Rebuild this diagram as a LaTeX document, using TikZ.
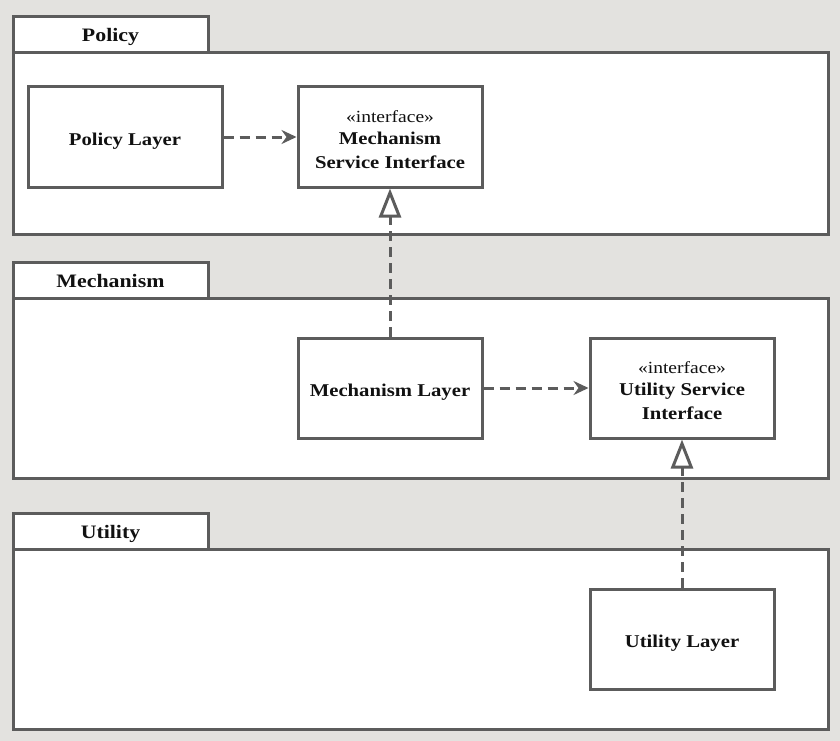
\documentclass[tikz,border=0pt]{standalone}
\usepackage{fontspec}
\setmainfont{Liberation Serif}[FakeStretch=1.15]
\usetikzlibrary{arrows.meta}
\definecolor{bg}{HTML}{E3E2DF}
\definecolor{ln}{HTML}{5C5C5C}
\definecolor{tx}{HTML}{111111}
\newcommand\stereotxt[1]{{\fontsize{17}{20}\selectfont\mdseries #1}}
\begin{document}
\begin{tikzpicture}[x=1pt,y=-1pt,
  pkg/.style={draw=ln,line width=3pt,fill=white},
  comp/.style={draw=ln,line width=3pt,fill=white,minimum width=184pt,minimum height=100pt,inner sep=0pt},
  lbl/.style={inner sep=0pt,align=center,text=tx,font=\fontsize{18}{24}\selectfont\bfseries},
  pkglabel/.style={anchor=base,inner sep=0pt,text=tx,font=\fontsize{19}{22}\selectfont\bfseries},
  dep/.style={draw=ln,line width=3pt,dash pattern=on 10pt off 6pt,-{Stealth[length=15pt,width=14pt,inset=5pt]}},
  real/.style={draw=ln,line width=3pt,dash pattern=on 10pt off 6pt,-{Triangle[open,length=29pt,width=22pt,fill=white]}}
]
\fill[bg] (0,0) rectangle (840,741);
\useasboundingbox (0,0) rectangle (840,741);
% Policy package
\draw[pkg] (13,17) rectangle (208,53);
\draw[pkg] (13,53) rectangle (828,234);
\node[pkglabel] (tp) at (110.5,41.7) {Policy};
% Mechanism package
\draw[pkg] (13,262) rectangle (208,298);
\draw[pkg] (13,298) rectangle (828,478);
\node[pkglabel] (tm) at (110.5,287) {Mechanism};
% Utility package
\draw[pkg] (13,513) rectangle (208,549);
\draw[pkg] (13,549) rectangle (828,729);
\node[pkglabel] (tu) at (110.5,538.3) {Utility};
% components
\node[comp,minimum width=194pt] (pl) at (125,137) {};
\node[comp] (msi) at (390,137) {};
\node[comp] (ml) at (390,388) {};
\node[comp] (usi) at (682,388) {};
\node[comp] (ul) at (682,639) {};
% texts
\node[lbl,anchor=base] (plt) at (125,145) {Policy Layer};
\node[lbl] (msit) at ([yshift=-2.5pt]msi.center) {\stereotxt{«interface»}\\[-2pt]Mechanism\\Service Interface};
\node[lbl,anchor=base] (mlt) at (390,396) {Mechanism Layer};
\node[lbl] (usit) at ([yshift=-2.5pt]usi.center) {\stereotxt{«interface»}\\[-2pt]Utility Service\\Interface};
\node[lbl,anchor=base] (ult) at (682,647) {Utility Layer};
% connectors
\draw[dep] (pl.east) -- (msi.west);
\draw[dep] (ml.east) -- (usi.west);
\draw[real] (ml.north) -- (msi.south);
\draw[real] (ul.north) -- (usi.south);
\end{tikzpicture}
\end{document}
